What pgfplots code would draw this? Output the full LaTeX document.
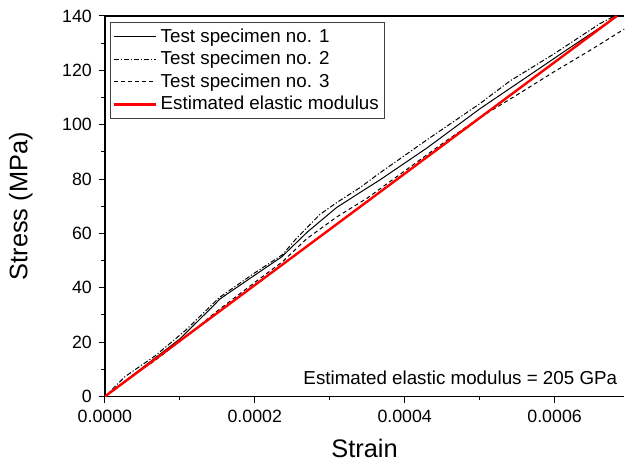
\documentclass[border=0pt]{standalone}
\usepackage{fontspec}
\setmainfont{Liberation Sans}
\usepackage{pgfplots}
\pgfplotsset{compat=1.18}
\begin{document}
\begin{tikzpicture}
\begin{axis}[
  scale only axis,
  width=260pt, height=190.5pt,
  xmin=0, xmax=0.000693,
  ymin=0, ymax=140,
  axis y line*=left,
  xtick pos=bottom,
  ytick pos=left,
  tick align=outside,
  major tick length=3pt,
  minor tick length=1.8pt,
  every tick/.style={black, line width=0.5pt},
  axis line style={line width=0.7pt},
  xtick={0,0.0002,0.0004,0.0006},
  minor xtick={0.0001,0.0003,0.0005},
  ytick={0,20,40,60,80,100,120,140},
  minor ytick={10,30,50,70,90,110,130},
  scaled x ticks=false,
  xticklabel style={/pgf/number format/.cd, fixed, fixed zerofill, precision=4},
  /pgf/number format/assume math mode=true,
  ticklabel style={font=\fontsize{8.9}{10}\selectfont},
  xlabel={Strain},
  ylabel={Stress (MPa)},
  label style={font=\fontsize{12.7}{14}\selectfont},
  xlabel style={at={(axis description cs:0.5,-0.1365)}, anchor=center},
  ylabel style={at={(axis description cs:-0.162,0.5)}, anchor=center},
  legend cell align=left,
  legend style={at={(rel axis cs:0,1)}, anchor=north west, xshift=2.5pt, yshift=-3pt,
    draw=black!75, line width=0.5pt, font=\fontsize{9.4}{10}\selectfont,
    inner sep=1pt, row sep=-1.0pt},
  legend image code/.code={\draw[#1] (0pt,0pt) -- (21pt,0pt);},
]
\addplot[black, line width=0.5pt] coordinates {
(0,0) (0.00005,10.6) (0.0001,21.2) (0.000147,34.0) (0.000153,35.8) (0.000197,44.1) (0.000236,51.4)
(0.000270,60.5) (0.000309,69.5) (0.00034,75.0) (0.000367,79.7) (0.00043,91.5) (0.0005,105.8)
(0.000553,115.7) (0.000616,127.5) (0.000684,140)
};
\addlegendentry{Test specimen no. 1}
\addplot[black, line width=0.5pt, dash pattern=on 2.5pt off 1pt on 0.6pt off 1pt] coordinates {
(0,0) (0.0000267,7.3) (0.0000667,14.9) (0.000107,24.2) (0.000153,36.5) (0.000200,45.5) (0.000237,52.2)
(0.000255,58.0) (0.000287,67.0) (0.000309,71.3) (0.00034,76.8) (0.000367,82.3) (0.00043,94.5)
(0.0005,107.7) (0.00054,116.0) (0.0006,126.2) (0.00066,137.1) (0.00068,140)
};
\addlegendentry{Test specimen no. 2}
\addplot[black, line width=0.5pt, dash pattern=on 2pt off 1.5pt] coordinates {
(0,0) (0.00003,6.4) (0.0000667,13.2) (0.000107,21.8) (0.00015,31.5) (0.0002,42.0) (0.000237,49.6)
(0.000269,58.0) (0.000309,66.0) (0.00035,73.0) (0.0004,83.0) (0.00045,93.0) (0.0005,102.6)
(0.00055,111.0) (0.0006,119.6) (0.00065,127.8) (0.000693,135.2)
};
\addlegendentry{Test specimen no. 3}
\addplot[red, line width=1.2pt] coordinates {(0,0) (0.000683,140)};
\addlegendentry{Estimated elastic modulus}
\node[anchor=east, inner sep=0pt, font=\fontsize{9.4}{10}\selectfont] at (rel axis cs:0.987,0.05) {Estimated elastic modulus = 205 GPa};
\end{axis}
\path (current axis.south west) ++(-52.5pt,-35.5pt) coordinate (bbA);
\path (current axis.north east) ++(0pt,8pt) coordinate (bbB);
\path (bbA) (bbB);
\end{tikzpicture}
\end{document}
